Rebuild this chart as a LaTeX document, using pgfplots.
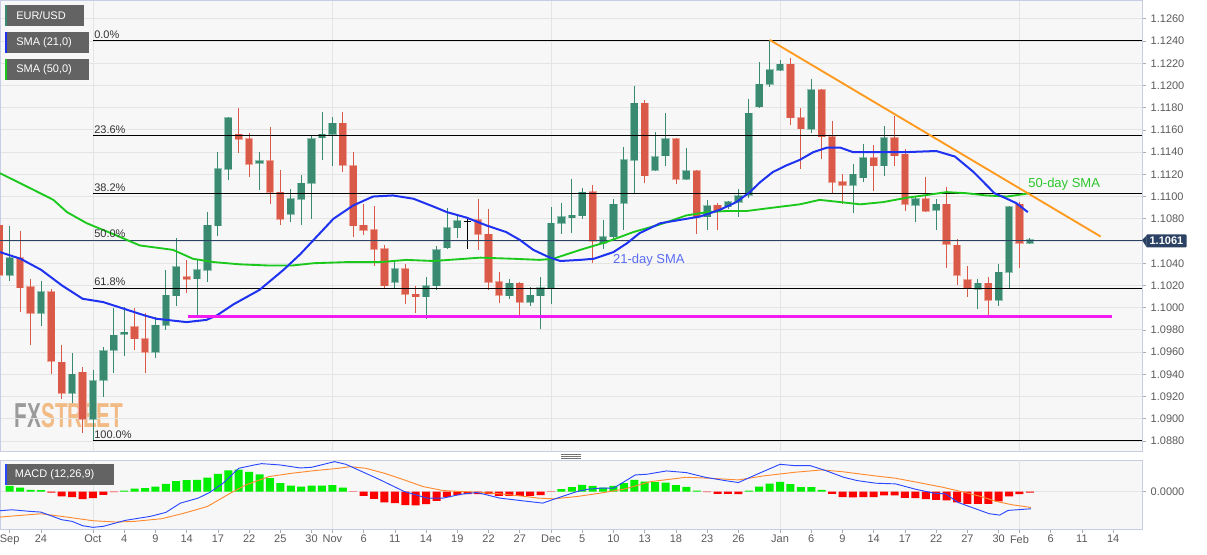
\documentclass[border=0pt]{standalone}
\usepackage{pgfplots}
\pgfplotsset{compat=1.18}
\usepackage{pgfplotstable}
\usepackage{fontspec}
\setmainfont{Liberation Sans}

\definecolor{bgc}{HTML}{F7F7F7}
\definecolor{gridc}{HTML}{E4E4E4}
\definecolor{bordc}{HTML}{C9CDE4}
\definecolor{tickc}{HTML}{5A5A5A}
\definecolor{upc}{HTML}{3A8A72}
\definecolor{upb}{HTML}{93C3B3}
\definecolor{dnc}{HTML}{D95A48}
\definecolor{dnb}{HTML}{F0A89D}
\definecolor{smab}{HTML}{1E32F0}
\definecolor{smag}{HTML}{1CC81C}
\definecolor{trendc}{HTML}{FF9A1E}
\definecolor{supc}{HTML}{F21CF2}
\definecolor{tagc}{HTML}{2C4264}
\definecolor{boxc}{HTML}{636363}
\definecolor{histg}{HTML}{00EE00}
\definecolor{histr}{HTML}{FF0000}
\definecolor{macdb}{HTML}{2A48FF}
\definecolor{macdo}{HTML}{FF8A30}
\definecolor{lab21}{HTML}{5A6CF2}
\definecolor{lab50}{HTML}{2CC62C}
\definecolor{wmgray}{HTML}{8C8C8C}
\definecolor{wmorange}{HTML}{F2B070}

\newcommand\tickfont{\fontsize{8.25}{9}\selectfont}

\pgfplotsset{
  wick/.style={draw=none, mark=none, forget plot,
    error bars/.cd, y dir=both, y explicit, error mark=none,
    error bar style={draw=#1, line width=0.6pt}},
  body/.style 2 args={draw=none, mark=none, forget plot,
    error bars/.cd, y dir=both, y explicit, error mark=none,
    error bar style={draw=#1, line width=#2}},
  up/.style={restrict expr to domain={\thisrow{c}-\thisrow{o}}{0.00001:1}},
  dn/.style={restrict expr to domain={\thisrow{c}-\thisrow{o}}{-1:-0.00001}},
  flat/.style={restrict expr to domain={\thisrow{c}-\thisrow{o}}{-0.00001:0.00001}},
}

% daily candles, i = trading day (0 = 1 Oct)
\pgfplotstableread{
i o h l c
-9 1.1074 1.1076 1.1014 1.1029
-8 1.1029 1.1074 1.1024 1.1045
-7 1.1045 1.1069 1.0996 1.1018
-6 1.1019 1.1026 1.0966 1.0995
-5 1.0995 1.1024 1.0984 1.1014
-4 1.1014 1.1017 1.0940 1.0952
-3 1.0951 1.0966 1.0918 1.0923
-2 1.0923 1.0959 1.0914 1.0940
-1 1.0942 1.0947 1.0887 1.0900
0 1.0900 1.0944 1.0881 1.0934
1 1.0935 1.0965 1.0920 1.0961
2 1.0962 1.1000 1.0941 1.0975
3 1.0976 1.1001 1.0957 1.0978
4 1.0983 1.1000 1.0962 1.0972
5 1.0972 1.0995 1.0941 1.0960
6 1.0960 1.0992 1.0955 1.0984
7 1.0984 1.1034 1.0980 1.1011
8 1.1011 1.1063 1.1002 1.1037
9 1.1028 1.1043 1.1013 1.1026
10 1.1026 1.1044 1.0993 1.1034
11 1.1034 1.1086 1.1023 1.1074
12 1.1074 1.1140 1.1065 1.1125
13 1.1125 1.1172 1.1115 1.1171
14 1.1156 1.1180 1.1139 1.1152
15 1.1152 1.1157 1.1118 1.1129
16 1.1130 1.1140 1.1106 1.1132
17 1.1132 1.1163 1.1093 1.1104
18 1.1104 1.1124 1.1074 1.1080
19 1.1084 1.1107 1.1077 1.1098
20 1.1098 1.1119 1.1074 1.1112
21 1.1112 1.1155 1.1080 1.1152
22 1.1153 1.1176 1.1133 1.1156
23 1.1156 1.1172 1.1128 1.1166
24 1.1166 1.1176 1.1122 1.1128
25 1.1128 1.1140 1.1064 1.1074
26 1.1074 1.1093 1.1065 1.1070
27 1.1070 1.1092 1.1038 1.1053
28 1.1053 1.1056 1.1018 1.1020
29 1.1023 1.1043 1.1017 1.1035
30 1.1035 1.1039 1.1003 1.1012
31 1.1012 1.1020 1.0995 1.1010
32 1.1010 1.1028 1.0990 1.1020
33 1.1020 1.1056 1.1016 1.1052
34 1.1054 1.1090 1.1053 1.1072
35 1.1072 1.1083 1.1063 1.1078
36 1.1078 1.1080 1.1053 1.1078
37 1.1079 1.1098 1.1052 1.1066
38 1.1066 1.1089 1.1016 1.1023
39 1.1023 1.1032 1.1004 1.1011
40 1.1011 1.1026 1.1008 1.1022
41 1.1022 1.1023 1.0992 1.1005
42 1.1005 1.1019 1.1002 1.1011
43 1.1011 1.1028 1.0981 1.1018
44 1.1018 1.1091 1.1003 1.1076
45 1.1076 1.1094 1.1066 1.1082
46 1.1081 1.1116 1.1067 1.1083
47 1.1083 1.1108 1.1080 1.1104
48 1.1104 1.1110 1.1040 1.1060
49 1.1058 1.1079 1.1053 1.1064
50 1.1064 1.1098 1.1062 1.1093
51 1.1094 1.1145 1.1070 1.1133
52 1.1133 1.1200 1.1103 1.1184
53 1.1184 1.1187 1.1112 1.1119
54 1.1124 1.1158 1.1123 1.1136
55 1.1137 1.1175 1.1128 1.1152
56 1.1152 1.1153 1.1111 1.1116
57 1.1116 1.1144 1.1115 1.1123
58 1.1123 1.1124 1.1066 1.1082
59 1.1082 1.1097 1.1070 1.1092
60 1.1092 1.1094 1.1070 1.1087
61 1.1091 1.1096 1.1089 1.1095
62 1.1095 1.1107 1.1082 1.1101
63 1.1101 1.1188 1.1099 1.1175
64 1.1181 1.1221 1.1180 1.1201
65 1.1201 1.1241 1.1199 1.1214
66 1.1214 1.1223 1.1213 1.1219
67 1.1219 1.1225 1.1164 1.1171
68 1.1171 1.1180 1.1125 1.1161
69 1.1161 1.1206 1.1157 1.1196
70 1.1196 1.1197 1.1134 1.1154
71 1.1154 1.1168 1.1102 1.1113
72 1.1113 1.1120 1.1093 1.1110
73 1.1110 1.1129 1.1085 1.1120
74 1.1117 1.1147 1.1113 1.1135
75 1.1135 1.1146 1.1105 1.1128
76 1.1128 1.1164 1.1119 1.1153
77 1.1153 1.1173 1.1128 1.1137
78 1.1138 1.1143 1.1087 1.1093
79 1.1092 1.1101 1.1077 1.1098
80 1.1098 1.1118 1.1086 1.1087
81 1.1088 1.1098 1.1070 1.1093
82 1.1093 1.1109 1.1036 1.1057
83 1.1056 1.1062 1.1020 1.1029
84 1.1025 1.1038 1.1010 1.1017
85 1.1017 1.1026 1.0999 1.1022
86 1.1022 1.1028 1.0992 1.1007
87 1.1007 1.1039 1.1002 1.1032
88 1.1032 1.1092 1.1017 1.1091
89 1.1093 1.1095 1.1036 1.1058
90 1.1058 1.1063 1.1057 1.1061
}\candles

\pgfplotstableread{
i v
-8.93 1.1050
-6.95 1.1044
-4.97 1.1034
-2.98 1.1020
-0.99 1.1008
0.99 1.1005
2.98 1.0999
4.96 1.0993
6.1 1.0990
9.0 1.0987
10.9 1.0989
11.9 1.0993
13.5 1.1003
16.0 1.1016
18.3 1.1034
19.9 1.1048
21.2 1.1061
23.1 1.1080
25.0 1.1092
26.9 1.1100
28.8 1.1101
30.8 1.1098
32.7 1.1091
34.0 1.1086
35.9 1.1081
37.8 1.1074
39.7 1.1068
41.0 1.1061
42.3 1.1052
43.9 1.1045
44.9 1.1042
46.8 1.1043
48.1 1.1044
50.0 1.1050
51.3 1.1058
52.5 1.1067
54.5 1.1076
56.4 1.1079
58.3 1.1082
60.2 1.1088
61.8 1.1095
63.1 1.1104
64.1 1.1113
65.3 1.1122
66.6 1.1128
67.9 1.1133
69.2 1.1140
70.5 1.1144
71.8 1.1144
73.0 1.1140
75.0 1.1140
78.2 1.1140
81.0 1.1141
82.8 1.1136
84.6 1.1122
86.6 1.1103
87.8 1.1098
88.7 1.1094
89.8 1.1086
}\smaA

\pgfplotstableread{
i v
-8.93 1.1121
-5.7 1.1106
-3.8 1.1097
-2.5 1.1086
-0.6 1.1076
2.0 1.1066
4.5 1.1056
7.7 1.1052
9.6 1.1044
11.6 1.1041
14.1 1.1039
16.7 1.1038
19.2 1.1038
21.2 1.1040
24.4 1.1041
27.6 1.1041
30.1 1.1043
32.7 1.1042
37.2 1.1045
40.4 1.1044
42.9 1.1043
44.2 1.1044
45.5 1.1048
46.8 1.1052
49.3 1.1059
51.9 1.1068
54.5 1.1075
57.0 1.1083
59.0 1.1086
60.9 1.1087
62.8 1.1087
65.3 1.1090
67.9 1.1093
69.8 1.1097
71.8 1.1095
73.7 1.1093
75.9 1.1095
78.2 1.1099
79.8 1.1101
82.0 1.1104
83.9 1.1103
85.8 1.1101
87.8 1.1100
90.0 1.1103
}\smaB

% MACD histogram (units of 1e-5)
\pgfplotstableread{
i v
-8 17
-7 12
-6 5
-5 4
-4 -3
-3 -15
-2 -17
-1 -23
0 -20
1 -10
2 -2
3 3
4 9
5 10
6 15
7 23
8 31
9 34
10 35
11 42
12 53
13 64
14 66
15 59
16 52
17 40
18 25
19 18
20 15
21 18
22 18
23 19
24 12
25 -1
26 -13
27 -22
28 -33
29 -35
30 -41
31 -42
32 -38
33 -28
34 -17
35 -11
36 -8
37 -8
38 -8
39 -13
40 -13
41 -13
42 -13
43 -11
44 -1
45 7
46 13
47 20
48 17
49 12
50 17
51 25
52 35
53 30
54 28
55 27
56 19
57 14
58 3
59 -2
60 -7
61 -7
62 -8
63 3
64 15
65 24
66 29
67 22
68 13
69 13
70 5
71 -7
72 -17
73 -18
74 -17
75 -17
76 -12
77 -12
78 -19
79 -20
80 -23
81 -25
82 -27
83 -33
84 -37
85 -37
86 -37
87 -30
88 -15
89 -8
90 -3
}\hist

\pgfplotstableread{
i v
-8.93 -58
-7.8 -55
-6.0 -60
-5.0 -62
-3.0 -85
-2.0 -90
-1.0 -103
0.0 -108
1.0 -105
3.1 -87
4.1 -82
5.5 -75
7.0 -63
8.4 -35
10.1 -20
11.2 -3
12.5 25
14.0 70
15.5 80
16.2 84
18.0 80
19.9 71
21.0 73
23.2 90
24.3 82
26.2 55
27.6 35
29.9 0
32.1 -20
33.6 -20
35.4 -8
36.9 -3
39.1 -20
41.0 -27
43.2 -35
44.3 -23
46.5 0
47.6 7
48.7 10
50.0 10
52.1 50
53.2 52
55.1 62
57.0 57
58.8 43
60.7 33
62.0 27
64.0 55
66.0 82
67.4 78
68.9 78
70.4 63
72.1 43
73.4 33
75.2 25
77.1 23
79.0 7
80.8 -5
81.9 -7
83.1 -33
84.6 -50
86.1 -67
87.1 -71
87.9 -57
90.1 -52
}\macd

\pgfplotstableread{
i v
-8.93 -77
-5.0 -67
-3.0 -75
0.0 -88
2.2 -92
4.0 -90
6.6 -82
8.8 -65
11.0 -45
13.2 -5
14.7 20
16.9 45
19.1 55
21.3 63
23.6 70
24.7 75
26.2 70
28.0 55
29.9 35
31.7 15
33.6 3
35.4 0
37.2 -3
39.1 -7
41.0 -13
42.8 -20
44.3 -22
46.5 -15
48.7 -5
51.0 7
53.6 30
57.0 43
59.2 40
62.0 35
64.4 47
67.4 58
70.0 65
71.9 60
74.9 48
77.1 40
79.3 27
81.6 13
83.8 -3
85.3 -15
86.8 -30
88.3 -40
90.1 -48
}\signal

\begin{document}
\begin{tikzpicture}
\useasboundingbox (0,0) rectangle (905.25pt,-416.25pt);
\fill[bgc] (0,0) rectangle (856.5pt,-338.25pt);
\fill[bgc] (0,-345pt) rectangle (856.5pt,-396.75pt);
% watermark
\node[anchor=south west, inner sep=0pt, xscale=0.6, opacity=0.85,
  font=\bfseries\fontsize{26}{26}\selectfont] at (11pt,-321pt)
  {\textcolor{wmgray}{FX}\textcolor{wmorange}{STREET}};

\begin{axis}[
  at={(0pt,0pt)}, anchor=north west,
  scale only axis, width=856.5pt, height=338.25pt,
  xmin=-8.93, xmax=100.77, ymin=1.0871, ymax=1.12769,
  axis line style={draw=bordc, line width=0.6pt},
  xtick={0,23,44,66,89}, xticklabels={}, xtick style={draw=none}, xmajorgrids,
  ytick={1.088,1.090,1.092,1.094,1.096,1.098,1.100,1.102,1.104,1.106,1.108,1.110,1.112,1.114,1.116,1.118,1.120,1.122,1.124,1.126},
  ymajorgrids, grid style={draw=gridc, line width=0.6pt},
  yticklabel pos=right, ytick pos=right,
  tick align=outside, major tick length=3pt,
  ytick style={draw=tickc!50, line width=0.5pt},
  y tick label style={/pgf/number format/.cd, fixed, fixed zerofill, precision=4,
    assume math mode=true, /tikz/.cd, font=\tickfont, text=tickc},
  no markers,
]
% candles: light rim, then wick, then body
\addplot[up, body={upb}{6.2pt}]
  table[x=i, y expr={(\thisrow{o}+\thisrow{c})/2}, y error expr={max(abs(\thisrow{c}-\thisrow{o})/2,0.00004)+0.00006}]{\candles};
\addplot[dn, body={dnb}{6.2pt}]
  table[x=i, y expr={(\thisrow{o}+\thisrow{c})/2}, y error expr={max(abs(\thisrow{c}-\thisrow{o})/2,0.00004)+0.00006}]{\candles};
\addplot[up, wick=upc]
  table[x=i, y expr={(\thisrow{h}+\thisrow{l})/2}, y error expr={(\thisrow{h}-\thisrow{l})/2}]{\candles};
\addplot[dn, wick=dnc]
  table[x=i, y expr={(\thisrow{h}+\thisrow{l})/2}, y error expr={(\thisrow{h}-\thisrow{l})/2}]{\candles};
\addplot[flat, wick=black]
  table[x=i, y expr={(\thisrow{h}+\thisrow{l})/2}, y error expr={(\thisrow{h}-\thisrow{l})/2}]{\candles};
\addplot[up, body={upc}{5pt}]
  table[x=i, y expr={(\thisrow{o}+\thisrow{c})/2}, y error expr={max(abs(\thisrow{c}-\thisrow{o})/2,0.00004)}]{\candles};
\addplot[dn, body={dnc}{5pt}]
  table[x=i, y expr={(\thisrow{o}+\thisrow{c})/2}, y error expr={max(abs(\thisrow{c}-\thisrow{o})/2,0.00004)}]{\candles};
\addplot[flat, body={black}{5.5pt}]
  table[x=i, y expr={(\thisrow{o}+\thisrow{c})/2}, y error expr={0.00002}]{\candles};

% Fibonacci levels
\addplot[black, line width=0.75pt] coordinates {(0,1.1240) (100.77,1.1240)};
\addplot[black, line width=0.75pt] coordinates {(0,1.11550) (100.77,1.11550)};
\addplot[black, line width=0.75pt] coordinates {(0,1.11025) (100.77,1.11025)};
\addplot[black, line width=0.75pt] coordinates {(0,1.1060) (100.77,1.1060)};
\addplot[black, line width=0.75pt] coordinates {(0,1.10175) (100.77,1.10175)};
\addplot[black, line width=0.75pt] coordinates {(0,1.0880) (100.77,1.0880)};
% last price
\addplot[tagc, line width=0.5pt] coordinates {(-8.93,1.1061) (100.77,1.1061)};
% moving averages
\addplot[smag, line width=1.4pt] table[x=i, y=v]{\smaB};
\addplot[smab, line width=1.5pt] table[x=i, y=v]{\smaA};
% trend line and support
\addplot[trendc, line width=1.4pt] coordinates {(65,1.1241) (96.8,1.1064)};
\addplot[supc, line width=2.2pt] coordinates {(9.1,1.0992) (97.9,1.0992)};

\begin{scope}[every node/.style={anchor=south west, inner sep=0pt, font=\tickfont, text=black!80, yshift=1.5pt}]
\node at (axis cs:0.1,1.1240) {0.0\%};
\node at (axis cs:0.1,1.11550) {23.6\%};
\node at (axis cs:0.1,1.11025) {38.2\%};
\node at (axis cs:0.1,1.1061) {50.0\%};
\node at (axis cs:0.1,1.10175) {61.8\%};
\node at (axis cs:0.1,1.0880) {100.0\%};
\end{scope}
\node[font=\fontsize{9.75}{11}\selectfont, text=lab21] at (axis cs:53.4,1.1043) {21-day SMA};
\node[font=\fontsize{9.75}{11}\selectfont, text=lab50] at (axis cs:93.3,1.1111) {50-day SMA};
\end{axis}

\begin{axis}[
  at={(0pt,-345pt)}, anchor=north west,
  scale only axis, width=856.5pt, height=51.75pt,
  xmin=-8.93, xmax=100.77, ymin=-113, ymax=95,
  axis line style={draw=bordc, line width=0.6pt},
  xtick={-8,-5,0,3,6,9,12,15,18,21,23,26,29,32,35,38,41,44,47,50,53,56,59,62,66,69,72,75,78,81,84,87,89,92,95,98},
  xticklabels={Sep,24,Oct,4,9,14,17,22,25,30,Nov,6,11,14,19,22,27,Dec,5,10,13,18,23,26,Jan,6,9,14,17,22,27,30,Feb,6,11,14},
  xtick pos=left, tick align=outside, major tick length=3pt,
  xtick style={draw=tickc!50, line width=0.5pt},
  x tick label style={font=\tickfont, text=tickc, inner sep=1.5pt},
  extra x ticks={0,23,44,66,89}, extra x tick labels={},
  extra x tick style={grid=major, major tick length=0pt},
  ytick={0}, yticklabels={0.0000}, yticklabel pos=right, ytick pos=right,
  ytick style={draw=tickc!50, line width=0.5pt},
  y tick label style={font=\tickfont, text=tickc},
  ymajorgrids, grid style={draw=gridc, line width=0.6pt},
  no markers,
]
\addplot[ybar, bar width=6pt, bar shift=0pt, fill=histg, draw=none, restrict y to domain=0:200] table[x=i, y=v]{\hist};
\addplot[ybar, bar width=6pt, bar shift=0pt, fill=histr, draw=none, restrict y to domain=-200:-0.5] table[x=i, y=v]{\hist};
\addplot[macdo, line width=0.7pt] table[x=i, y=v]{\signal};
\addplot[macdb, line width=0.7pt] table[x=i, y=v]{\macd};
\end{axis}

% indicator boxes
\begin{scope}[every node/.style={anchor=west, inner sep=0pt, text=white, font=\tickfont}]
\fill[boxc] (3.75pt,-3.75pt) rectangle (63pt,-19.5pt);
\fill[upc] (3.75pt,-3.75pt) rectangle (5.25pt,-19.5pt);
\node at (12pt,-11.6pt) {EUR/USD};
\fill[boxc] (3.75pt,-24pt) rectangle (66.75pt,-39.75pt);
\fill[smab] (3.75pt,-24pt) rectangle (5.25pt,-39.75pt);
\node at (12pt,-31.9pt) {SMA (21,0)};
\fill[boxc] (3.75pt,-44.25pt) rectangle (66.75pt,-60pt);
\fill[smag] (3.75pt,-44.25pt) rectangle (5.25pt,-60pt);
\node at (12pt,-52.1pt) {SMA (50,0)};
\fill[boxc] (3.75pt,-348pt) rectangle (85.5pt,-363.75pt);
\fill[macdb] (3.75pt,-348pt) rectangle (5.25pt,-363.75pt);
\node at (11pt,-355.9pt) {MACD (12,26,9)};
\end{scope}

% last price tag
\fill[tagc] (856.5pt,-180pt) -- (860pt,-176.5pt) -- (860pt,-185.5pt) -- cycle;
\node[anchor=west, fill=tagc, text=white, inner xsep=2.5pt, inner ysep=2pt,
  font=\bfseries\tickfont, rounded corners=0.8pt] at (859.5pt,-180.7pt) {1.1061};

% panel separator handle
\draw[black!55, line width=0.5pt] (420.75pt,-340.7pt) -- (435.75pt,-340.7pt)
  (420.75pt,-342.2pt) -- (435.75pt,-342.2pt) (420.75pt,-343.7pt) -- (435.75pt,-343.7pt);
\end{tikzpicture}
\end{document}
